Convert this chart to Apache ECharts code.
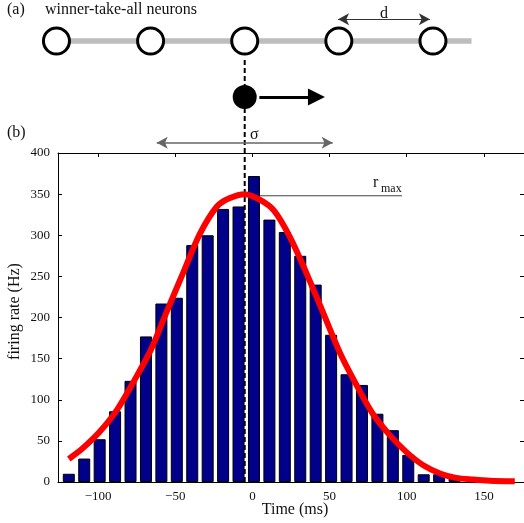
<!DOCTYPE html>
<html>
<head>
<meta charset="utf-8">
<script src="https://cdn.jsdelivr.net/npm/echarts@6/dist/echarts.min.js"></script>
<style>
html,body{margin:0;padding:0;background:#fff;}
#chart{width:524px;height:523px;}
</style>
</head>
<body>
<div id="chart"></div>
<script>
// ---- data ----
const timeBins = [-119,-109,-99,-89,-79,-69,-59,-49,-39,-29,-19,-9,1,11,21,31,41,51,61,71,81,91,101,111,121,131];
const firingRates = [10,28.5,52,86,123,177,217,224,288,300,332,335,372,319,304,275,240,179,131,118,83,63,33,9.4,9.4,4.5];
const fitTimes = [-119,-110,-99,-88,-77,-66,-56,-45,-34,-23,-15,-5,5,14,24,35,46,57,68,78,89,100,111,122,132,143,154,170];
const fitRates = [28,41,61,87,122,160,205,254,302,335,345,350,343,330,299,254,205,156,116,83,57,36,20,10,5,3,1.6,0.8];
const xTickValues = [-100,-50,0,50,100,150];
const yTickValues = [0,50,100,150,200,250,300,350,400];
const neuronPositions = [-127,-66,-5,56,117];
const stimulusTime = -5;
const rMax = 348;
const rMaxEnd = 97;
const sigmaRange = [-62, 52];
const dRange = [55.5, 115];
const motionRange = [4.5, 41.5];

const FONT = 'Liberation Serif';
const chart = echarts.init(document.getElementById('chart'), null, {renderer: 'canvas'});
const fmt = v => String(v).replace('-', '\u2212');

// schematic rows (top panel, vertical units from top)
const ROW_D = 19.3, ROW_NEURON = 41, ROW_STIM = 97, ROW_SIGMA = 142.7, ROW_TOP = 153;

const option = {
  animation: false,
  textStyle: {fontFamily: FONT},
  grid: [
    {left: 58, right: 0, top: 153, height: 329, containLabel: false, outerBoundsMode: 'none'},
    {left: 58, right: 0, top: 0, height: 153, containLabel: false, outerBoundsMode: 'none'}
  ],
  xAxis: [
    {
      type: 'value', gridIndex: 0, position: 'bottom', min: -126, max: 176,
      name: 'Time (ms)', nameLocation: 'middle', nameGap: 20, nameMoveOverlap: false,
      nameTextStyle: {fontFamily: FONT, fontSize: 16, color: '#111', padding: [0,0,0,8]},
      axisLine: {show: true, onZero: false, lineStyle: {color: '#000', width: 1}},
      axisTick: {show: true, inside: true, length: 4, customValues: xTickValues, lineStyle: {color: '#000'}},
      axisLabel: {show: true, customValues: xTickValues, formatter: fmt, margin: 8,
        fontFamily: FONT, fontSize: 13, color: '#111'},
      splitLine: {show: false}
    },
    {
      type: 'value', gridIndex: 0, position: 'top', min: -126, max: 176,
      axisLine: {show: true, onZero: false, lineStyle: {color: '#000', width: 1}},
      axisTick: {show: true, inside: true, length: 4, customValues: xTickValues, lineStyle: {color: '#000'}},
      axisLabel: {show: false},
      splitLine: {show: false}
    },
    {
      type: 'value', gridIndex: 1, min: -126, max: 176, show: false
    }
  ],
  yAxis: [
    {
      type: 'value', gridIndex: 0, position: 'left', min: 0, max: 400, interval: 50,
      name: 'firing rate (Hz)', nameLocation: 'middle', nameGap: 35, nameRotate: 90, nameMoveOverlap: false,
      nameTextStyle: {fontFamily: FONT, fontSize: 16, color: '#111', padding: [0,0,0,12]},
      axisLine: {show: true, onZero: false, lineStyle: {color: '#000', width: 1}},
      axisTick: {show: true, inside: true, length: 4, lineStyle: {color: '#000'}},
      axisLabel: {show: true, margin: 8, fontFamily: FONT, fontSize: 13, color: '#111'},
      splitLine: {show: false}
    },
    {
      type: 'value', gridIndex: 0, position: 'right', min: 0, max: 400, interval: 50,
      axisLine: {show: true, onZero: false, lineStyle: {color: '#000', width: 1}},
      axisTick: {show: true, inside: true, length: 4, lineStyle: {color: '#000'}},
      axisLabel: {show: false},
      splitLine: {show: false}
    },
    {
      type: 'value', gridIndex: 1, min: 0, max: ROW_TOP, inverse: true, show: false
    }
  ],
  series: [
    {
      type: 'line', xAxisIndex: 0, yAxisIndex: 0, z: 1, silent: true,
      data: [[stimulusTime, rMax], [rMaxEnd, rMax]],
      symbol: 'none', lineStyle: {color: '#444', width: 1}
    },
    {
      type: 'bar', xAxisIndex: 0, yAxisIndex: 0, z: 2, silent: true,
      data: timeBins.map((t, i) => [t, firingRates[i]]),
      barWidth: 12,
      itemStyle: {color: '#00008B', borderColor: '#000', borderWidth: 1}
    },
    {
      type: 'line', xAxisIndex: 0, yAxisIndex: 0, z: 3, silent: true,
      data: [[stimulusTime, 0], [stimulusTime, 400]],
      symbol: 'none', lineStyle: {color: '#000', width: 2, type: [5, 3]}
    },
    {
      type: 'line', xAxisIndex: 0, yAxisIndex: 0, z: 4, silent: true, clip: false,
      data: fitTimes.map((t, i) => [t, fitRates[i]]),
      smooth: 0.3, symbol: 'none',
      lineStyle: {color: '#FF0000', width: 6, cap: 'butt'}
    },
    // top schematic
    {
      type: 'line', xAxisIndex: 2, yAxisIndex: 2, z: 1, silent: true, clip: false,
      data: [[-157, ROW_NEURON], [142, ROW_NEURON]],
      symbol: 'none', lineStyle: {color: '#BDBDBD', width: 5.5}
    },
    {
      type: 'scatter', xAxisIndex: 2, yAxisIndex: 2, z: 3, silent: true, clip: false,
      data: neuronPositions.map(p => [p, ROW_NEURON]),
      symbol: 'circle', symbolSize: 26,
      itemStyle: {color: '#fff', borderColor: '#000', borderWidth: 3, opacity: 1}
    },
    {
      type: 'line', xAxisIndex: 2, yAxisIndex: 2, z: 2, silent: true, clip: false,
      data: [[stimulusTime, 60], [stimulusTime, ROW_TOP]],
      symbol: 'none', lineStyle: {color: '#000', width: 2, type: [5, 3]}
    },
    {
      type: 'scatter', xAxisIndex: 2, yAxisIndex: 2, z: 3, silent: true, clip: false,
      data: [[stimulusTime, ROW_STIM]],
      symbol: 'circle', symbolSize: 24,
      itemStyle: {color: '#000', opacity: 1}
    },
    {
      type: 'line', xAxisIndex: 2, yAxisIndex: 2, z: 3, silent: true, data: [],
      markLine: {
        silent: true, animation: false,
        label: {show: false},
        emphasis: {disabled: true},
        data: [
          [
            {coord: [dRange[0], ROW_D], symbol: 'arrow', symbolSize: [9, 11],
             lineStyle: {color: '#333', width: 1.2, type: 'solid'}, itemStyle: {color: '#111'}},
            {coord: [dRange[1], ROW_D], symbol: 'arrow', symbolSize: [9, 11]}
          ],
          [
            {coord: [sigmaRange[0], ROW_SIGMA], symbol: 'arrow', symbolSize: [9, 11],
             lineStyle: {color: '#666', width: 1.5, type: 'solid'}, itemStyle: {color: '#111'}},
            {coord: [sigmaRange[1], ROW_SIGMA], symbol: 'arrow', symbolSize: [9, 11]}
          ],
          [
            {coord: [motionRange[0], ROW_STIM], symbol: 'none',
             lineStyle: {color: '#000', width: 3, type: 'solid'}, itemStyle: {color: '#000'}},
            {coord: [motionRange[1], ROW_STIM], symbol: 'triangle', symbolSize: [17, 17]}
          ]
        ]
      }
    }
  ],
  graphic: [
    {type: 'text', z: 100, silent: true, style: {text: '(a)', x: 7, y: 10, font: '16px "Liberation Serif"', fill: '#111', align: 'left', verticalAlign: 'middle', textAlign: 'left', textVerticalAlign: 'middle'}},
    {type: 'text', z: 100, silent: true, style: {text: 'winner-take-all neurons', x: 45, y: 10, font: '16px "Liberation Serif"', fill: '#111', align: 'left', verticalAlign: 'middle', textAlign: 'left', textVerticalAlign: 'middle'}},
    {type: 'text', z: 100, silent: true, style: {text: 'd', x: 384, y: 14, font: '16px "Liberation Serif"', fill: '#111', align: 'center', verticalAlign: 'middle', textAlign: 'center', textVerticalAlign: 'middle'}},
    {type: 'text', z: 100, silent: true, style: {text: '(b)', x: 7, y: 133, font: '16px "Liberation Serif"', fill: '#111', align: 'left', verticalAlign: 'middle', textAlign: 'left', textVerticalAlign: 'middle'}},
    {type: 'text', z: 100, silent: true, style: {text: 'σ', x: 250, y: 135, font: '16px "Liberation Serif"', fill: '#111', align: 'left', verticalAlign: 'middle', textAlign: 'left', textVerticalAlign: 'middle'}},
    {type: 'text', z: 100, silent: true, style: {text: 'r', x: 373, y: 183, font: '16px "Liberation Serif"', fill: '#111', align: 'left', verticalAlign: 'middle', textAlign: 'left', textVerticalAlign: 'middle'}},
    {type: 'text', z: 100, silent: true, style: {text: 'max', x: 381, y: 189, font: '12px "Liberation Serif"', fill: '#111', align: 'left', verticalAlign: 'middle', textAlign: 'left', textVerticalAlign: 'middle'}}
  ]
};
chart.setOption(option);
</script>
</body>
</html>
